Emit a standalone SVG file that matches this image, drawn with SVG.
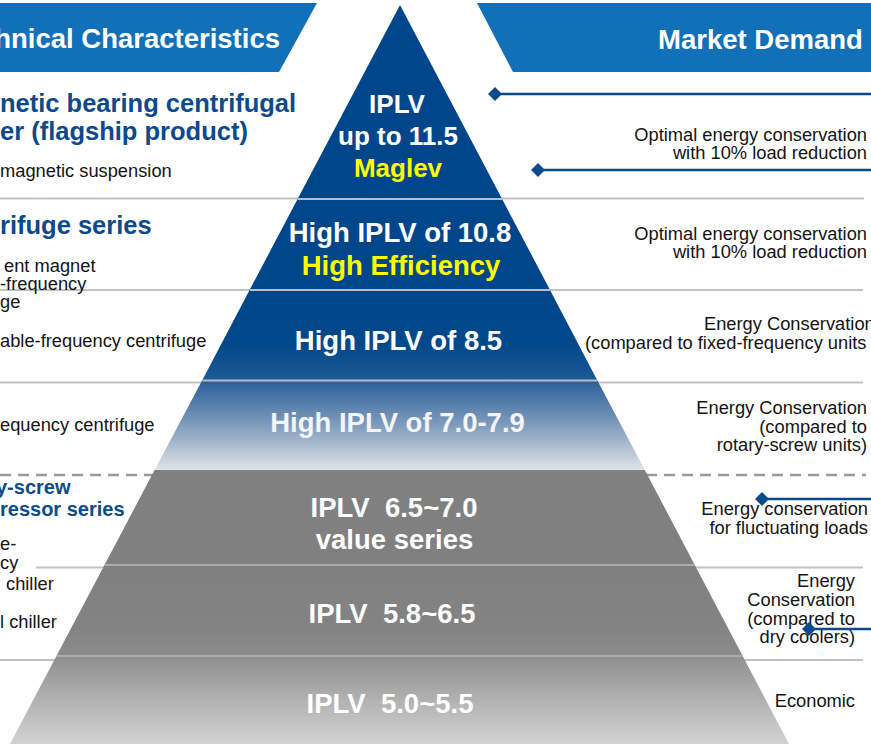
<svg xmlns="http://www.w3.org/2000/svg" width="871" height="744" viewBox="0 0 871 744">
<style>
text{font-family:"Liberation Sans",Arial,Helvetica,sans-serif}
.hd{font-weight:bold;font-size:27.5px;fill:#ffffff}
.bl{font-weight:bold;font-size:25.5px;fill:#0b4a8c}
.bs{font-weight:bold;font-size:20px;fill:#0b4a8c}
.rg{font-size:18.3px;fill:#141414}
.pt{font-weight:bold;font-size:26px;fill:#ffffff;text-anchor:middle}
.pm{font-weight:bold;font-size:27.5px;fill:#ffffff;text-anchor:middle}
.yl{fill:#ffff00}
.sep{stroke:#c2c2c2;stroke-width:2;fill:none}
.isep{stroke:#b9bec4;stroke-width:2;fill:none}
.gsep{stroke:#ababab;stroke-width:2;fill:none}
.dash{stroke:#9a9a9a;stroke-width:2.5;stroke-dasharray:11 7;fill:none}
.con{stroke:#0b4a8c;stroke-width:2.5;fill:none;marker-start:url(#dia)}
</style>
<defs>
<marker id="dia" viewBox="0 0 14 14" refX="7" refY="7" markerWidth="14" markerHeight="14" markerUnits="userSpaceOnUse" orient="auto">
<path d="M7 0 L14 7 L7 14 L0 7 Z" fill="#0b4a8c"/>
</marker>
<linearGradient id="g3" x1="0" y1="0" x2="0" y2="1">
<stop offset="0" stop-color="#01468a"/><stop offset="0.6" stop-color="#03488b"/><stop offset="1" stop-color="#1d5a96"/>
</linearGradient>
<linearGradient id="g4" x1="0" y1="0" x2="0" y2="1">
<stop offset="0" stop-color="#2a5e98"/><stop offset="0.5" stop-color="#7f9cbd"/><stop offset="1" stop-color="#e0e3e7"/>
</linearGradient>
<linearGradient id="g6" x1="0" y1="0" x2="0" y2="1">
<stop offset="0" stop-color="#808080"/><stop offset="0.7" stop-color="#838383"/><stop offset="1" stop-color="#8c8c8c"/>
</linearGradient>
<linearGradient id="g7" x1="0" y1="0" x2="0" y2="1">
<stop offset="0" stop-color="#8f8f8f"/><stop offset="1" stop-color="#d3d3d3"/>
</linearGradient>
</defs>
<rect width="871" height="744" fill="#ffffff"/>

<g id="headers">
<polygon points="0,3 317,3 279,72 0,72" fill="#1170b8"/>
<text class="hd" x="280" y="48" text-anchor="end">hnical Characteristics</text>
<polygon points="477,3 871,3 871,72 513,72" fill="#1170b8"/>
<text class="hd" x="658" y="49">Market Demand</text>
</g>

<g id="separators">
<line class="sep" x1="0" y1="198.5" x2="299" y2="198.5"/>
<line class="sep" x1="501" y1="198.5" x2="864" y2="198.5"/>
<line class="sep" x1="0" y1="290" x2="251" y2="290"/>
<line class="sep" x1="549" y1="290" x2="863" y2="290"/>
<line class="sep" x1="0" y1="382.5" x2="203" y2="382.5"/>
<line class="sep" x1="597" y1="382.5" x2="863" y2="382.5"/>
<line class="dash" x1="0" y1="475" x2="153" y2="475"/>
<line class="dash" x1="646" y1="475" x2="866" y2="475"/>
<line class="sep" x1="36" y1="567.5" x2="104" y2="567.5"/>
<line class="sep" x1="695" y1="567.5" x2="863" y2="567.5"/>
<line class="sep" x1="0" y1="660" x2="56" y2="660"/>
<line class="sep" x1="744" y1="660" x2="863" y2="660"/>
</g>

<g id="pyramid">
<polygon id="band1" points="400,5 502.1,199 297.6,199" fill="#01468a"/>
<polygon id="band2" points="297.6,199 502.1,199 550,290 249.6,290" fill="#01468a"/>
<polygon id="band3" points="249.6,290 550,290 597.4,380.5 202.1,380.5" fill="url(#g3)"/>
<polygon id="band4" points="202.1,380.5 597.4,380.5 644.8,470 154.6,470" fill="url(#g4)"/>
<polygon id="band5" points="154.6,470 644.8,470 694.8,565 104.5,565" fill="#808080"/>
<polygon id="band6" points="104.5,565 694.8,565 742.7,656 56.4,656" fill="url(#g6)"/>
<polygon id="band7" points="56.4,656 742.7,656 789,744 10,744" fill="url(#g7)"/>
<line class="isep" x1="298" y1="199" x2="502" y2="199"/>
<line class="isep" x1="250" y1="290" x2="550" y2="290"/>
<line class="isep" x1="202.5" y1="380.5" x2="597" y2="380.5"/>
<line class="gsep" x1="105" y1="565" x2="694.5" y2="565"/>
<line class="gsep" x1="57" y1="656" x2="742.5" y2="656"/>
</g>

<g id="tier-maglev">
<text class="pt" x="397" y="113">IPLV</text>
<text class="pt" x="398" y="145">up to 11.5</text>
<text class="pt yl" x="398" y="177">Maglev</text>
</g>
<g id="tier-high-efficiency">
<text class="pm" x="400" y="242">High IPLV of 10.8</text>
<text class="pm yl" x="401" y="275">High Efficiency</text>
</g>
<g id="tier-8-5">
<text class="pm" x="398.5" y="350">High IPLV of 8.5</text>
</g>
<g id="tier-7-0">
<text class="pm" x="397.5" y="432" style="fill:#f2f4f7">High IPLV of 7.0-7.9</text>
</g>
<g id="tier-6-5">
<text class="pm" x="394" y="517" xml:space="preserve" style="white-space:pre">IPLV  6.5~7.0</text>
<text class="pm" x="394.5" y="549">value series</text>
</g>
<g id="tier-5-8">
<text class="pm" x="392" y="623" xml:space="preserve" style="white-space:pre">IPLV  5.8~6.5</text>
</g>
<g id="tier-5-0">
<text class="pm" x="390" y="713" xml:space="preserve" style="white-space:pre">IPLV  5.0~5.5</text>
</g>

<g id="left-maglev">
<text class="bl" x="0" y="112">netic bearing centrifugal</text>
<text class="bl" x="0" y="140">er (flagship product)</text>
<text class="rg" x="0" y="177">magnetic suspension</text>
</g>
<g id="left-centrifuge">
<text class="bl" x="0" y="234">rifuge series</text>
<text class="rg" x="4" y="272">ent magnet</text>
<text class="rg" x="0" y="290">-frequency</text>
<text class="rg" x="0" y="308">ge</text>
<text class="rg" x="0" y="347">able-frequency centrifuge</text>
<text class="rg" x="0" y="431">equency centrifuge</text>
</g>
<g id="left-screw">
<text class="bs" x="-4" y="494">y-screw</text>
<text class="bs" x="0" y="516">ressor series</text>
<text class="rg" x="0" y="550">e-</text>
<text class="rg" x="0" y="569">cy</text>
<text class="rg" x="6" y="590">chiller</text>
<text class="rg" x="0" y="628">l chiller</text>
</g>

<g id="right-demand">
<text class="rg" x="867" y="141" text-anchor="end">Optimal energy conservation</text>
<text class="rg" x="867" y="159" text-anchor="end">with 10% load reduction</text>
<text class="rg" x="867" y="240" text-anchor="end">Optimal energy conservation</text>
<text class="rg" x="867" y="258" text-anchor="end">with 10% load reduction</text>
<text class="rg" x="704" y="330">Energy Conservation</text>
<text class="rg" x="585" y="349">(compared to fixed-frequency units</text>
<text class="rg" x="867" y="414" text-anchor="end">Energy Conservation</text>
<text class="rg" x="867" y="433" text-anchor="end">(compared to</text>
<text class="rg" x="867" y="451" text-anchor="end">rotary-screw units)</text>
<text class="rg" x="868" y="515" text-anchor="end">Energy conservation</text>
<text class="rg" x="868" y="534" text-anchor="end">for fluctuating loads</text>
<text class="rg" x="855" y="587" text-anchor="end">Energy</text>
<text class="rg" x="855" y="606" text-anchor="end">Conservation</text>
<text class="rg" x="855" y="625" text-anchor="end">(compared to</text>
<text class="rg" x="855" y="643" text-anchor="end">dry coolers)</text>
<text class="rg" x="855" y="707" text-anchor="end">Economic</text>
</g>

<g id="connectors">
<line class="con" x1="495" y1="94" x2="871" y2="94"/>
<line class="con" x1="538" y1="170" x2="871" y2="170"/>
<line class="con" x1="762" y1="499" x2="871" y2="499"/>
<line class="con" x1="809" y1="629" x2="871" y2="629"/>
</g>
</svg>
